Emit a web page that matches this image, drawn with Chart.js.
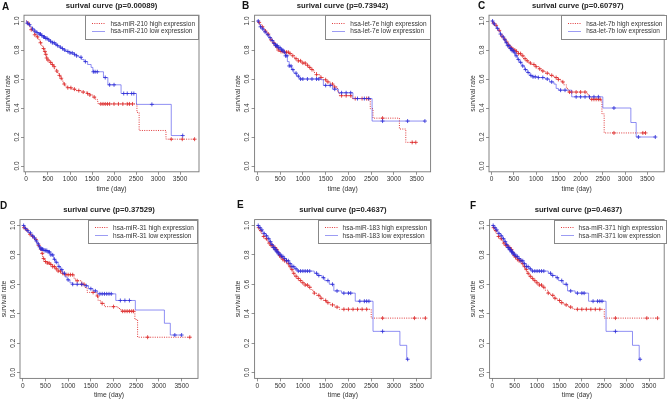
<!DOCTYPE html>
<html>
<head>
<meta charset="utf-8">
<script src="https://cdn.jsdelivr.net/npm/chart.js@4.4.1/dist/chart.umd.min.js"></script>
<style>
html, body { margin: 0; padding: 0; background: #fff; }
#page { position: relative; width: 669px; height: 403px; overflow: hidden; font-family: "Liberation Sans", Arial, sans-serif; }
#page canvas { position: absolute; left: 0; top: 0; }
.letter { position: absolute; font-weight: bold; font-size: 10px; line-height: 10px; color: #111; }
.title { position: absolute; font-weight: bold; font-size: 7.7px; line-height: 9px; text-align: center; color: #222; white-space: nowrap; }
.legend { position: absolute; border: 1px solid #888; background: #fff; padding: 3.5px 3px 3.5px 6px; font-size: 6.5px; line-height: 7.7px; color: #333; white-space: nowrap; }
.legend .row { display: flex; align-items: center; }
.legend svg { display: block; margin-right: 5px; }
</style>
</head>
<body>
<div id="page"></div>
<script>
// tick labels shared by all panels
const xTicks = [0, 500, 1000, 1500, 2000, 2500, 3000, 3500];
const yTicks = [0, 0.2, 0.4, 0.6, 0.8, 1.0];
const yTickLabels = ['0.0', '0.2', '0.4', '0.6', '0.8', '1.0'];

// [time, survival after the event]
const highA = [[0,1],[30,0.985],[60,0.97],[90,0.955],[120,0.94],[160,0.925],[200,0.905],[240,0.89],[280,0.87],[320,0.85],[350,0.83],[380,0.81],[410,0.79],[440,0.77],[470,0.745],[500,0.73],[540,0.715],[580,0.70],[620,0.685],[650,0.67],[690,0.655],[720,0.64],[750,0.625],[790,0.605],[820,0.585],[850,0.565],[890,0.55],[950,0.54],[1030,0.53],[1120,0.52],[1250,0.51],[1380,0.50],[1450,0.49],[1520,0.475],[1580,0.46],[1620,0.445],[1640,0.428],[2520,0.37],[2570,0.245],[3180,0.185],[3830,0.185]];
const highCensA = [50,120,200,260,330,400,430,450,470,500,560,600,640,700,760,800,870,950,1020,1100,1200,1300,1400,1450,1550,1700,1750,1800,1850,1900,2000,2100,2200,2300,2350,2420,3300,3550,3830];
const lowA = [[0,1],[25,0.985],[50,0.975],[100,0.96],[150,0.945],[200,0.93],[250,0.92],[300,0.91],[350,0.90],[400,0.89],[450,0.88],[500,0.87],[550,0.86],[600,0.85],[650,0.84],[700,0.83],[750,0.82],[800,0.81],[850,0.80],[900,0.79],[1000,0.78],[1100,0.77],[1150,0.76],[1200,0.75],[1260,0.735],[1320,0.72],[1400,0.70],[1480,0.68],[1520,0.65],[1760,0.61],[1860,0.56],[2160,0.50],[2510,0.425],[3300,0.21],[3560,0.21]];
const lowCensA = [30,80,150,200,250,300,330,360,400,420,450,480,520,560,600,640,680,720,780,830,880,950,1000,1050,1100,1150,1250,1350,1530,1570,1620,1800,1900,2000,2220,2300,2400,2450,2860,3560];

const highB = [[0,1],[20,0.99],[50,0.975],[90,0.96],[130,0.945],[170,0.93],[210,0.91],[260,0.89],[300,0.87],[340,0.85],[380,0.835],[420,0.82],[460,0.80],[500,0.79],[600,0.785],[700,0.775],[760,0.76],[820,0.74],[900,0.725],[980,0.71],[1060,0.695],[1120,0.68],[1180,0.665],[1240,0.645],[1300,0.63],[1380,0.61],[1450,0.595],[1520,0.58],[1600,0.565],[1680,0.545],[1760,0.51],[1800,0.485],[2080,0.465],[2480,0.395],[2540,0.33],[3120,0.255],[3260,0.163],[3480,0.163]];
const highCensB = [40,110,180,240,300,360,400,430,460,520,560,600,640,680,720,780,850,900,950,1000,1050,1100,1150,1200,1300,1400,1500,1550,1650,1700,1850,1950,2050,2150,2300,2400,2440,2750,3400,3480];
const lowB = [[0,1],[30,0.98],[60,0.96],[100,0.945],[150,0.925],[200,0.905],[250,0.885],[300,0.865],[350,0.845],[400,0.83],[450,0.815],[520,0.80],[580,0.785],[620,0.76],[660,0.72],[700,0.69],[750,0.665],[800,0.64],[860,0.62],[920,0.60],[1400,0.595],[1450,0.556],[1650,0.53],[1780,0.505],[2100,0.465],[2520,0.31],[3680,0.31]];
const lowCensB = [20,70,120,170,230,280,330,370,400,420,440,470,500,530,560,590,620,650,700,740,780,850,900,950,1000,1100,1200,1300,1350,1500,1600,1700,1850,1950,2050,2200,2350,2450,2750,3300,3680];

const highC = [[0,1],[30,0.985],[70,0.97],[110,0.95],[150,0.935],[190,0.915],[230,0.895],[270,0.875],[310,0.855],[350,0.835],[400,0.815],[460,0.80],[540,0.79],[600,0.775],[660,0.76],[720,0.74],[780,0.725],[840,0.71],[900,0.70],[980,0.685],[1060,0.67],[1120,0.655],[1200,0.64],[1300,0.625],[1400,0.61],[1500,0.597],[1560,0.58],[1620,0.56],[1680,0.535],[1720,0.51],[2150,0.49],[2200,0.46],[2460,0.45],[2480,0.36],[2530,0.228],[3460,0.228]];
const highCensC = [40,100,170,230,290,340,380,420,450,480,520,560,600,650,700,750,800,870,950,1000,1080,1150,1250,1350,1450,1500,1600,1750,1800,1900,2000,2100,2250,2300,2350,2400,2440,2750,3400,3460];
const lowC = [[0,1],[30,0.98],[70,0.965],[110,0.95],[150,0.93],[190,0.91],[230,0.89],[270,0.87],[310,0.85],[350,0.83],[400,0.81],[450,0.795],[500,0.78],[540,0.76],[580,0.735],[620,0.715],[680,0.69],[740,0.665],[800,0.645],[860,0.625],[920,0.615],[1050,0.61],[1200,0.60],[1300,0.58],[1400,0.565],[1450,0.535],[1500,0.523],[1800,0.477],[2500,0.40],[3130,0.30],[3250,0.20],[3680,0.20]];
const lowCensC = [20,60,130,200,260,300,330,360,390,420,440,460,490,520,550,600,650,700,760,820,880,930,980,1050,1150,1250,1350,1550,1650,1900,2000,2100,2200,2300,2400,2750,3300,3680];

const highD = [[0,1],[30,0.985],[70,0.97],[110,0.955],[150,0.94],[200,0.925],[250,0.905],[300,0.885],[340,0.865],[380,0.84],[420,0.81],[440,0.775],[480,0.755],[540,0.745],[600,0.735],[660,0.72],[720,0.705],[780,0.69],[840,0.675],[900,0.665],[1130,0.64],[1160,0.624],[1300,0.60],[1380,0.575],[1420,0.545],[1620,0.52],[1660,0.49],[1720,0.47],[1800,0.448],[2100,0.435],[2160,0.417],[2470,0.36],[2530,0.24],[3690,0.24]];
const highCensD = [30,90,160,220,290,350,400,430,460,500,540,580,620,660,700,740,780,830,880,950,1000,1050,1100,1200,1300,1350,1550,1650,1750,2000,2200,2250,2300,2350,2400,2440,2750,3680];
const lowD = [[0,1],[40,0.98],[80,0.965],[130,0.95],[180,0.93],[230,0.915],[280,0.895],[320,0.875],[360,0.855],[400,0.84],[450,0.83],[560,0.82],[620,0.80],[680,0.77],[720,0.75],[780,0.72],[830,0.70],[880,0.675],[930,0.65],[980,0.63],[1040,0.61],[1100,0.60],[1350,0.59],[1450,0.57],[1550,0.555],[1650,0.535],[2050,0.49],[2480,0.425],[3120,0.335],[3250,0.255],[3500,0.255]];
const lowCensD = [20,60,110,170,220,260,300,340,370,400,420,440,470,500,530,560,590,620,660,700,740,800,860,920,1000,1100,1200,1300,1400,1500,1600,1700,1750,1800,1850,1900,1950,2150,2250,2350,3350,3500];

const highE = [[0,1],[20,0.985],[50,0.965],[90,0.945],[130,0.925],[170,0.91],[210,0.895],[250,0.88],[300,0.865],[350,0.85],[400,0.835],[440,0.815],[480,0.795],[520,0.785],[560,0.77],[600,0.76],[650,0.74],[700,0.72],[740,0.70],[780,0.675],[820,0.655],[870,0.64],[920,0.625],[980,0.61],[1050,0.595],[1120,0.58],[1180,0.56],[1240,0.54],[1300,0.525],[1380,0.505],[1450,0.49],[1520,0.475],[1600,0.46],[1700,0.445],[1800,0.43],[2500,0.37],[3690,0.37]];
const highCensE = [30,80,140,200,260,300,330,360,390,410,430,460,490,520,560,600,640,680,720,760,800,850,900,950,1000,1050,1100,1150,1250,1350,1400,1500,1550,1650,1750,1900,2000,2100,2200,2300,2400,2750,3450,3690];
const lowE = [[0,1],[30,0.985],[70,0.97],[110,0.955],[150,0.945],[190,0.93],[230,0.91],[270,0.89],[310,0.87],[350,0.85],[390,0.835],[430,0.82],[470,0.805],[520,0.79],[580,0.775],[640,0.76],[700,0.74],[760,0.72],[820,0.705],[880,0.69],[1250,0.675],[1320,0.66],[1420,0.645],[1480,0.625],[1580,0.60],[1680,0.555],[1850,0.54],[2150,0.485],[2540,0.28],[3130,0.185],[3280,0.09],[3300,0.09]];
const lowCensE = [20,60,100,150,200,250,290,320,350,370,390,410,430,450,470,500,530,560,600,640,680,720,760,800,850,900,950,1000,1050,1100,1150,1300,1350,1450,1550,1650,1750,1900,2000,2050,2250,2350,2400,2450,2750,3300];

// panel F shows the same curves as panel E in the source figure
const highF = highE, highCensF = highCensE, lowF = lowE, lowCensF = lowCensE;

const titles = ['surival curve (p=0.00089)', 'surival curve (p=0.73942)', 'surival curve (p=0.60797)',
                'surival curve (p=0.37529)', 'surival curve (p=0.4637)', 'surival curve (p=0.4637)'];
const genes = ['hsa-miR-210', 'hsa-let-7e', 'hsa-let-7b', 'hsa-miR-31', 'hsa-miR-183', 'hsa-miR-371'];
const letters = ['A', 'B', 'C', 'D', 'E', 'F'];

// layout: plot box in page pixels, x range, letter position
const layoutBoxes = [
    { left: 24,    top: 15.2,  width: 175,   height: 156.6, xMin: -45, xMax: 3930, lx: 2,   ly: 2 },
    { left: 254.6, top: 15.2,  width: 176,   height: 156.6, xMin: -60, xMax: 3805, lx: 242, ly: 1 },
    { left: 489,   top: 15.2,  width: 177.5, height: 156.6, xMin: -60, xMax: 3880, lx: 478, ly: 1 },
    { left: 20,    top: 219.6, width: 178,   height: 158.8, xMin: -60, xMax: 3860, lx: 0,   ly: 201 },
    { left: 254.6, top: 219.6, width: 176.5, height: 158.8, xMin: -60, xMax: 3815, lx: 237, ly: 200 },
    { left: 489.6, top: 219.6, width: 177.5, height: 158.8, xMin: -60, xMax: 3838, lx: 470, ly: 201 }
];

const series = [
    [highA, highCensA, lowA, lowCensA],
    [highB, highCensB, lowB, lowCensB],
    [highC, highCensC, lowC, lowCensC],
    [highD, highCensD, lowD, lowCensD],
    [highE, highCensE, lowE, lowCensE],
    [highF, highCensF, lowF, lowCensF]
];

const RED = '#e0393b', RED_MARK = '#dc2626';
const BLUE = 'rgba(70,70,235,0.6)', BLUE_MARK = '#2b2bd6';
const FONT = '"Liberation Sans", Arial, sans-serif';
const W = 669, H = 403;
const yW = 24, xH = 28;

function survAt(steps, t) {
    let s = 1;
    for (const [tt, ss] of steps) { if (tt <= t) s = ss; }
    return s;
}

// R-style frame: box, rotated y labels, axis titles
const rFrame = {
    id: 'rFrame',
    afterDraw(chart) {
        const { ctx, chartArea: a, scales: { y } } = chart;
        ctx.save();
        ctx.strokeStyle = '#777';
        ctx.lineWidth = 0.9;
        ctx.strokeRect(a.left, a.top, a.right - a.left, a.bottom - a.top);
        ctx.fillStyle = '#333';
        ctx.textAlign = 'center';
        ctx.textBaseline = 'middle';
        ctx.font = '6.5px ' + FONT;
        yTicks.forEach((v, i) => {
            ctx.save();
            ctx.translate(a.left - 7, y.getPixelForValue(v));
            ctx.rotate(-Math.PI / 2);
            ctx.fillText(yTickLabels[i], 0, 0);
            ctx.restore();
        });
        ctx.font = '6.8px ' + FONT;
        ctx.save();
        ctx.translate(a.left - 16, (a.top + a.bottom) / 2);
        ctx.rotate(-Math.PI / 2);
        ctx.fillText('survival rate', 0, 0);
        ctx.restore();
        ctx.fillText('time (day)', (a.left + a.right) / 2, a.bottom + 17);
        ctx.restore();
    }
};

const page = document.getElementById('page');

function sample(color, dash) {
    return '<svg width="13" height="3"><line x1="0" y1="1.5" x2="13" y2="1.5" stroke="' + color +
        '" stroke-width="1"' + (dash ? ' stroke-dasharray="1 1.3"' : '') + '/></svg>';
}

function addPanel(i) {
    const b = layoutBoxes[i];
    const [high, highCens, low, lowCens] = series[i];

    const cv = document.createElement('canvas');
    cv.width = W; cv.height = H;
    page.appendChild(cv);

    new Chart(cv, {
        type: 'line',
        data: {
            datasets: [
                {   // low censor marks
                    data: lowCens.map(t => ({ x: t, y: survAt(low, t) })),
                    showLine: false, pointStyle: 'cross', pointRadius: 2,
                    pointBorderColor: BLUE_MARK, pointBorderWidth: 0.8
                },
                {
                    data: low.map(([t, s]) => ({ x: t, y: s })),
                    stepped: true, borderColor: BLUE, borderWidth: 1, pointRadius: 0, fill: false
                },
                {   // high censor marks
                    data: highCens.map(t => ({ x: t, y: survAt(high, t) })),
                    showLine: false, pointStyle: 'cross', pointRadius: 2,
                    pointBorderColor: RED_MARK, pointBorderWidth: 0.8
                },
                {
                    data: high.map(([t, s]) => ({ x: t, y: s })),
                    stepped: true, borderColor: RED, borderWidth: 1, borderDash: [1, 1.3],
                    pointRadius: 0, fill: false
                }
            ]
        },
        options: {
            responsive: false,
            animation: false,
            events: [],
            layout: {
                padding: {
                    left: b.left - yW,
                    top: b.top,
                    right: W - b.left - b.width,
                    bottom: H - b.top - b.height - xH
                }
            },
            plugins: { legend: { display: false }, tooltip: { enabled: false }, title: { display: false } },
            scales: {
                x: {
                    type: 'linear', min: b.xMin, max: b.xMax,
                    afterBuildTicks: s => { s.ticks = xTicks.map(v => ({ value: v })); },
                    afterFit: s => { s.height = xH; },
                    ticks: {
                        font: { size: 6.5, family: FONT }, color: '#333', padding: 1,
                        autoSkip: false, maxRotation: 0, callback: v => String(v)
                    },
                    grid: { drawOnChartArea: false, tickLength: 3, color: '#777', lineWidth: 0.8 },
                    border: { display: false }
                },
                y: {
                    type: 'linear', min: -0.04, max: 1.04,
                    afterBuildTicks: s => { s.ticks = yTicks.map(v => ({ value: v })); },
                    afterFit: s => { s.width = yW; },
                    ticks: { display: false },
                    grid: { drawOnChartArea: false, tickLength: 3, color: '#777', lineWidth: 0.8 },
                    border: { display: false }
                }
            }
        },
        plugins: [rFrame]
    });

    const letter = document.createElement('div');
    letter.className = 'letter';
    letter.style.left = b.lx + 'px';
    letter.style.top = b.ly + 'px';
    letter.textContent = letters[i];
    page.appendChild(letter);

    const title = document.createElement('div');
    title.className = 'title';
    title.style.left = b.left + 'px';
    title.style.width = b.width + 'px';
    title.style.top = (b.top - 14.5) + 'px';
    title.textContent = titles[i];
    page.appendChild(title);

    const lg = document.createElement('div');
    lg.className = 'legend';
    lg.style.right = (W - b.left - b.width) + 'px';
    lg.style.top = b.top + 'px';
    lg.innerHTML =
        '<div class="row">' + sample(RED, true) + '<span>' + genes[i] + ' high expression</span></div>' +
        '<div class="row">' + sample('rgba(90,90,235,0.6)', false) + '<span>' + genes[i] + ' low expression</span></div>';
    page.appendChild(lg);
}

for (let i = 0; i < 6; i++) addPanel(i);
</script>
</body>
</html>
